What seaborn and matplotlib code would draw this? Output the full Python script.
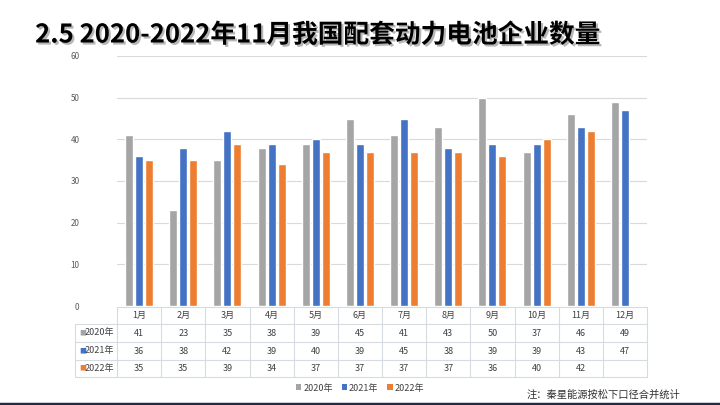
import numpy as np
import pandas as pd
import matplotlib
matplotlib.use("Agg")
import matplotlib.pyplot as plt
import matplotlib.patheffects as pe
from matplotlib.lines import Line2D
from matplotlib.patches import Patch
from matplotlib.transforms import blended_transform_factory
import seaborn as sns

# ---------------- data ----------------
months = ["1月", "2月", "3月", "4月", "5月", "6月", "7月", "8月", "9月", "10月", "11月", "12月"]
years = ["2020年", "2021年", "2022年"]
v2020 = [41, 23, 35, 38, 39, 45, 41, 43, 50, 37, 46, 49]
v2021 = [36, 38, 42, 39, 40, 39, 45, 38, 39, 39, 43, 47]
v2022 = [35, 35, 39, 34, 37, 37, 37, 37, 36, 40, 42, np.nan]
yticks = [0, 10, 20, 30, 40, 50, 60]
title = "2.5 2020-2022年11月我国配套动力电池企业数量"
note = "注：秦星能源按松下口径合并统计"
colors = ["#a5a5a5", "#4472c4", "#ed7d31"]

series = [v2020, v2021, v2022]
df = pd.DataFrame({
    "month": months * 3,
    "year": [y for y in years for _ in months],
    "value": v2020 + v2021 + v2022,
})

sns.set_theme(style="white")
plt.rcParams["font.family"] = ["Noto Sans CJK SC", "DejaVu Sans"]

W, H = 720, 405
fig = plt.figure(figsize=(7.2, 4.05), dpi=100)
fig.patch.set_facecolor("white")

def fx(px):
    return px / W

def fy(py):
    return 1 - py / H

ax = fig.add_axes([fx(117), fy(306), fx(647) - fx(117), (306 - 56) / H])
sns.barplot(data=df.dropna(), x="month", y="value", hue="year", order=months,
            hue_order=years, palette=colors, saturation=1, width=0.68, gap=0.2,
            errorbar=None, legend=False, ax=ax)
ax.set_xlim(-0.5, len(months) - 0.5)
ax.set_ylim(0, 60)
ax.set_yticks(yticks)
ax.set_yticklabels([str(t) for t in yticks])
ax.set_xticks([])
ax.set_xlabel("")
ax.set_ylabel("")
for s in ax.spines.values():
    s.set_visible(False)
ax.grid(axis="y", color="#d9d9d9", lw=0.8)
ax.set_axisbelow(True)
ax.tick_params(axis="y", length=0, pad=27, labelsize=5.8, labelcolor="#595959")

# ---------------- data table ----------------
tr = blended_transform_factory(ax.transData, fig.transFigure)
line_c = "#d6dbe2"
row_tops = [307, 324, 342, 360, 377]
txt_c = "#404040"
fs = 6.5
# horizontal lines
fig.add_artist(Line2D([fx(117), fx(647)], [fy(307)] * 2, color=line_c, lw=0.8))
for yy in row_tops[1:]:
    fig.add_artist(Line2D([fx(75), fx(647)], [fy(yy)] * 2, color=line_c, lw=0.8))
# vertical lines
for i in range(len(months) + 1):
    ax.add_line(Line2D([i - 0.5, i - 0.5], [fy(307), fy(377)], transform=tr,
                       color=line_c, lw=0.8, clip_on=False))
fig.add_artist(Line2D([fx(75), fx(75)], [fy(324), fy(377)], color=line_c, lw=0.8))

ymid = [(row_tops[k] + row_tops[k + 1]) / 2 for k in range(4)]
for i, m in enumerate(months):
    ax.text(i, fy(ymid[0]), m, transform=tr, ha="center", va="center",
            fontsize=fs, color=txt_c, clip_on=False)
for r, (yr, vals, c) in enumerate(zip(years, series, colors)):
    yc = fy(ymid[r + 1])
    fig.text(fx(79), yc, "■", color=c, fontsize=5, ha="left", va="center")
    fig.text(fx(85), yc, yr, color=txt_c, fontsize=fs, ha="left", va="center")
    for i, v in enumerate(vals):
        if not np.isnan(v):
            ax.text(i, yc, f"{int(v)}", transform=tr, ha="center", va="center",
                    fontsize=fs, color=txt_c, clip_on=False)

# ---------------- legend ----------------
handles = [Patch(facecolor=c, edgecolor="none") for c in colors]
fig.legend(handles, years, loc="center", bbox_to_anchor=(fx(360), fy(388)),
           ncol=3, frameon=False, fontsize=6.5, handlelength=0.6, handleheight=0.6,
           handletextpad=0.2, columnspacing=1.0, labelcolor=txt_c)

# ---------------- title, note, bottom bar ----------------
fig.text(fx(318), fy(35), title, ha="center", va="center", fontsize=18.5,
         fontweight="bold", color="black",
         path_effects=[pe.withSimplePatchShadow(offset=(1.5, -1.5), shadow_rgbFace="#888888", alpha=0.6)])
fig.text(fx(680), fy(395), note, ha="right", va="center", fontsize=7.4, color="#333333")
fig.add_artist(Line2D([0, 1], [fy(403.5)] * 2, color="#1f2b47", lw=2.5))

fig.savefig("out.png", dpi=100, facecolor="white")
